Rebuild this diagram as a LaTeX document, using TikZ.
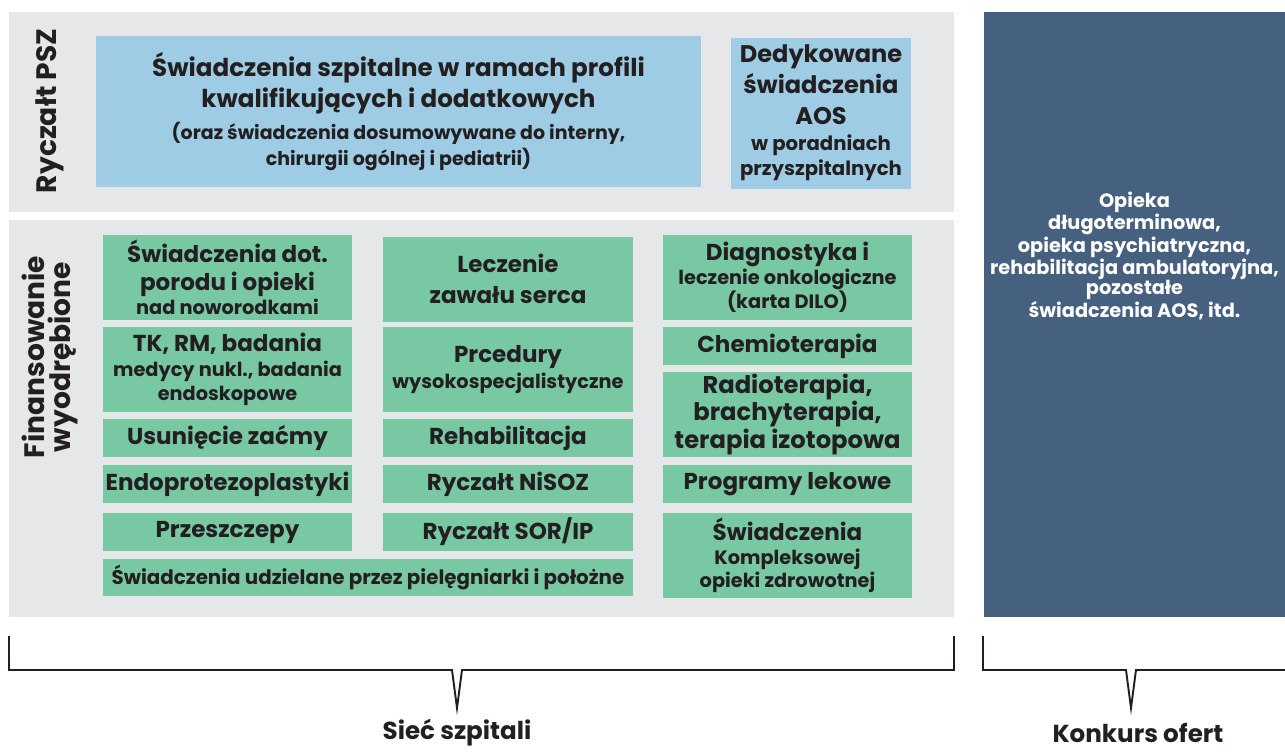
\documentclass[tikz,border=0pt]{standalone}
\usepackage{fontspec}
\setmainfont{Poppins}
\usetikzlibrary{positioning}
\definecolor{pnlgrey}{RGB}{230,231,233}
\definecolor{boxblue}{RGB}{158,204,228}
\definecolor{boxgreen}{RGB}{119,200,163}
\definecolor{boxdark}{RGB}{70,96,127}
\definecolor{txtdark}{RGB}{35,31,32}
\newcommand{\bigtxt}{\fontsize{14}{17.6}\selectfont}
\newcommand{\midtxt}{\fontsize{13.1}{15.5}\selectfont}
\newcommand{\smtxt}{\fontsize{11}{13}\selectfont}
\tikzset{
  panel/.style={rectangle, fill=pnlgrey, inner sep=0pt},
  dims/.style 2 args={minimum width=#1*0.02cm, minimum height=#2*0.02cm},
  bluebox/.style={rectangle, fill=boxblue, align=center, inner sep=1pt,
    text=txtdark, font=\bfseries\midtxt},
  greenbox/.style={rectangle, fill=boxgreen, align=center, inner sep=1pt,
    text=txtdark, font=\bfseries\midtxt},
  darkbox/.style={rectangle, fill=boxdark, inner sep=0pt},
  sidelbl/.style={rotate=90, align=center, text=txtdark, font=\bfseries\fontsize{16}{14.5}\selectfont},
  botlbl/.style={text=txtdark, inner sep=0pt, font=\bfseries\fontsize{14}{16}\selectfont},
  brace/.style={draw=txtdark, line width=1.1pt}
}

\begin{document}
\begin{tikzpicture}[x=0.02cm, y=-0.02cm]
\useasboundingbox (0,0) rectangle (1285,751);

% panels
\node[panel, dims={945}{200}] (pszpanel) at (481.5,112) {};
\node[panel, dims={945}{397}] (finpanel) at (481.5,418.5) {};
\node[darkbox, dims={301}{605}] (aosbox) at (1134.5,314.5) {};

% side labels
\node[sidelbl] (pszlbl) at (50,111) {Ryczałt PSZ};
\node[sidelbl] (finlbl) at (50,357) {Finansowanie\\wyodrębione};

% ryczalt PSZ
\node[bluebox, dims={605}{151}, font=\bfseries\bigtxt] (profile) at (398.5,111.5)
  {Świadczenia szpitalne w ramach profili\\kwalifikujących i dodatkowych\\[1pt]
   {\fontsize{10.8}{13}\selectfont (oraz świadczenia dosumowywane do interny,}\\[-3pt]
   {\fontsize{10.8}{13}\selectfont chirurgii ogólnej i pediatrii)}};
\node[bluebox, dims={180}{151}, font=\bfseries\fontsize{13.7}{17.6}\selectfont] (aosded) at (821,113)
  {Dedykowane\\świadczenia\\AOS\\[-3pt]{\fontsize{11.2}{13}\selectfont w poradniach}\\[-3pt]
   {\fontsize{11.2}{13}\selectfont przyszpitalnych}};

% finansowanie wyodrebione - column 1
\node[greenbox, dims={249}{85}] (porod) at (227.5,277.5)
  {Świadczenia dot.\\porodu i opieki\\[-1.5pt]{\smtxt nad noworodkami}};
\node[greenbox, dims={249}{85}] (tkrm) at (227.5,369.5)
  {TK, RM, badania\\[-1.5pt]{\smtxt medycy nukl., badania}\\[-2pt]{\smtxt endoskopowe}};
\node[greenbox, dims={249}{38}] (zacma) at (227.5,438) {Usunięcie zaćmy};
\node[greenbox, dims={249}{38}] (endop) at (227.5,484) {Endoprotezoplastyki};
\node[greenbox, dims={249}{38}] (przesz) at (227.5,532) {Przeszczepy};

% column 2
\node[greenbox, dims={250}{85}] (zawal) at (508,279) {Leczenie\\[2pt]zawału serca};
\node[greenbox, dims={250}{85}] (proc) at (508,369.5)
  {Prcedury\\[-1pt]{\smtxt wysokospecjalistyczne}};
\node[greenbox, dims={250}{38}] (rehab) at (508,438) {Rehabilitacja};
\node[greenbox, dims={250}{38}] (nisoz) at (508,484) {Ryczałt NiSOZ};
\node[greenbox, dims={250}{38}] (sorip) at (508,532) {Ryczałt SOR/IP};
\node[greenbox, dims={530}{37}, font=\bfseries\fontsize{11.3}{13}\selectfont] (pielegn) at (368,577.5)
  {Świadczenia udzielane przez pielęgniarki i położne};

% column 3
\node[greenbox, dims={249}{85}] (onko) at (787.5,277.5)
  {Diagnostyka i\\[-2pt]{\smtxt leczenie onkologiczne}\\[-2pt]{\smtxt (karta DILO)}};
\node[greenbox, dims={249}{38}] (chemio) at (787.5,346) {Chemioterapia};
\node[greenbox, dims={249}{85}, font=\bfseries\fontsize{13.8}{14.2}\selectfont] (radio) at (787.5,414.5)
  {Radioterapia,\\brachyterapia,\\terapia izotopowa};
\node[greenbox, dims={249}{38}] (leki) at (787.5,484) {Programy lekowe};
\node[greenbox, dims={249}{85}] (kompl) at (787.5,555.5)
  {Świadczenia\\[-2pt]{\smtxt Kompleksowej}\\[-2pt]{\smtxt opieki zdrowotnej}};

% konkurs ofert
\node[text=white, align=center, font=\bfseries\fontsize{11}{11.4}\selectfont] (aostxt) at (1134.5,256)
  {Opieka\\długoterminowa,\\opieka psychiatryczna,\\rehabilitacja ambulatoryjna,\\pozostałe\\świadczenia AOS, itd.};

% brackets
\draw[brace] (9,636) |- (452,670) -- (457,708) -- (462,670) -| (954,636);
\draw[brace] (983,636) |- (1126,670) -- (1131,708) -- (1136,670) -- (1285,670);
\node[botlbl] (siec) at (457,733) {Sieć szpitali};
\node[botlbl] (konk) at (1138,733) {Konkurs ofert};
\end{tikzpicture}
\end{document}
